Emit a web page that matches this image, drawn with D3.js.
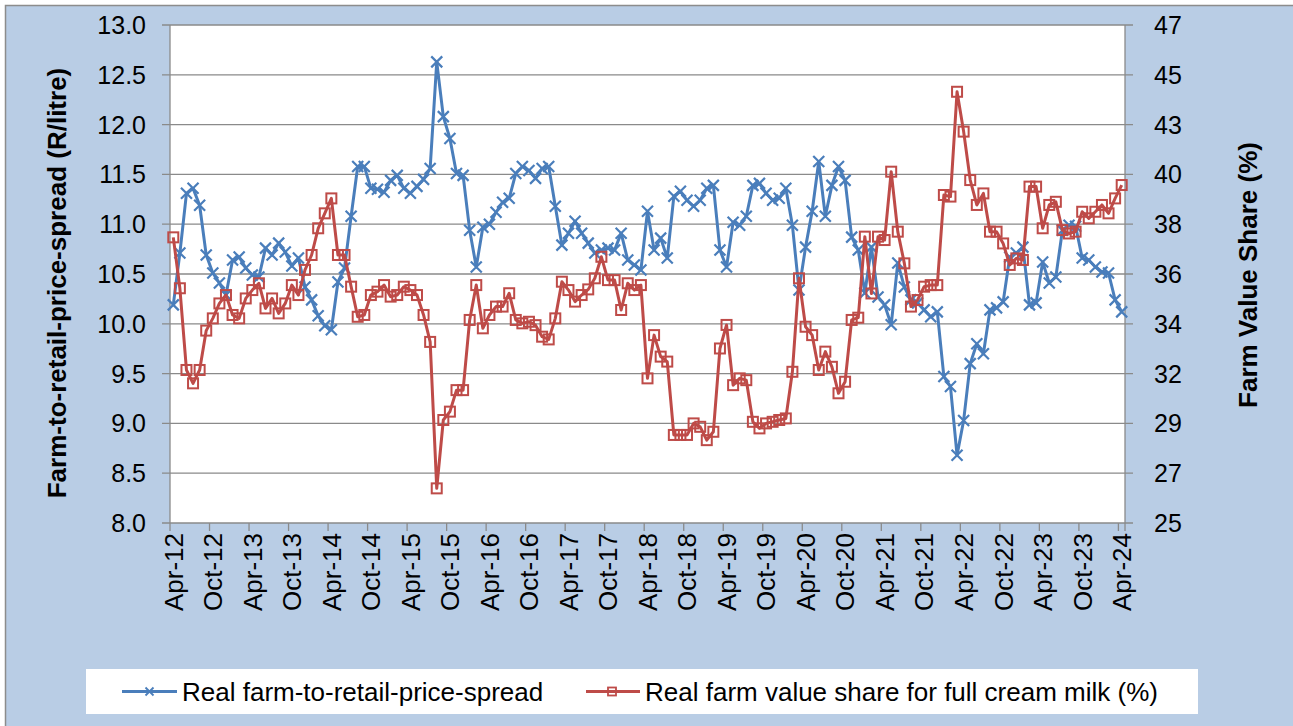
<!DOCTYPE html>
<html>
<head>
<meta charset="utf-8">
<script src="https://cdn.jsdelivr.net/npm/d3@7"></script>
<style>
  body { margin: 0; background: #fff; }
  text { font-family: "Liberation Sans", Arial, sans-serif; fill: #000; }
</style>
</head>
<body>
<script>
// monthly categories Apr-12 .. Apr-24
var months = d3.utcMonth.range(new Date(Date.UTC(2012, 3, 1)), new Date(Date.UTC(2024, 4, 1)));
var fmtMonth = d3.utcFormat("%b-%y");

// Real farm-to-retail-price-spread (R/litre), left axis
var spread = [
  10.19, 10.71, 11.31, 11.36, 11.19, 10.69, 10.51, 10.41, 10.29, 10.64, 10.67, 10.56,
  10.49, 10.47, 10.76, 10.69, 10.81, 10.72, 10.58, 10.66, 10.37, 10.24, 10.08, 9.98,
  9.94, 10.42, 10.56, 11.08, 11.58, 11.58, 11.36, 11.35, 11.32, 11.44, 11.49, 11.36,
  11.31, 11.38, 11.45, 11.56, 12.63, 12.08, 11.86, 11.51, 11.49, 10.94, 10.57, 10.97,
  11.00, 11.12, 11.22, 11.26, 11.51, 11.58, 11.54, 11.46, 11.56, 11.58, 11.18, 10.79,
  10.91, 11.03, 10.91, 10.81, 10.71, 10.74, 10.76, 10.74, 10.91, 10.64, 10.59, 10.54,
  11.13, 10.74, 10.86, 10.66, 11.28, 11.33, 11.24, 11.18, 11.24, 11.36, 11.39, 10.74,
  10.57, 11.02, 10.99, 11.08, 11.39, 11.41, 11.31, 11.24, 11.26, 11.36, 10.99, 10.34,
  10.77, 11.13, 11.63, 11.08, 11.39, 11.58, 11.44, 10.87, 10.74, 10.31, 10.77, 10.27,
  10.19, 9.99, 10.61, 10.37, 10.24, 10.21, 10.14, 10.07, 10.12, 9.47, 9.37, 8.68,
  9.03, 9.60, 9.80, 9.70, 10.14, 10.16, 10.22, 10.67, 10.71, 10.77, 10.19, 10.21,
  10.62, 10.41, 10.47, 10.94, 10.99, 10.98, 10.66, 10.64, 10.57, 10.52, 10.51, 10.24,
  10.12
];

// Real farm value share for full cream milk (%), right axis
var share = [
  37.62, 35.37, 31.76, 31.17, 31.76, 33.50, 34.04, 34.70, 35.07, 34.19, 34.04, 34.92,
  35.29, 35.59, 34.48, 34.92, 34.26, 34.70, 35.51, 35.07, 36.18, 36.84, 38.02, 38.68,
  39.34, 36.84, 36.84, 35.44, 34.11, 34.19, 35.07, 35.22, 35.51, 35.00, 35.07, 35.44,
  35.29, 35.07, 34.19, 33.00, 26.53, 29.55, 29.92, 30.87, 30.87, 33.97, 35.51, 33.60,
  34.19, 34.56, 34.56, 35.15, 33.97, 33.82, 33.89, 33.74, 33.23, 33.11, 34.04, 35.66,
  35.29, 34.78, 35.07, 35.32, 35.81, 36.76, 35.73, 35.73, 34.41, 35.59, 35.29, 35.51,
  31.39, 33.30, 32.35, 32.13, 28.89, 28.89, 28.89, 29.40, 29.25, 28.66, 29.03, 32.71,
  33.75, 31.09, 31.39, 31.31, 29.47, 29.18, 29.40, 29.47, 29.55, 29.62, 31.68, 35.81,
  33.67, 33.30, 31.76, 32.57, 31.90, 30.73, 31.24, 33.97, 34.07, 37.65, 35.14, 37.65,
  37.50, 40.52, 37.87, 36.47, 34.56, 34.85, 35.44, 35.51, 35.51, 39.49, 39.42, 44.05,
  42.29, 40.15, 39.05, 39.56, 37.87, 37.87, 37.35, 36.40, 36.69, 36.62, 39.86, 39.86,
  38.02, 39.05, 39.19, 37.94, 37.79, 37.87, 38.75, 38.46, 38.75, 39.05, 38.68, 39.34,
  39.93
];

var seriesNames = ["Real farm-to-retail-price-spread", "Real farm value share for full cream milk (%)"];
var leftTitle = "Farm-to-retail-price-spread (R/litre)";
var rightTitle = "Farm Value Share (%)";

var width = 1293, height = 726;
var plot = {left: 170, right: 1125, top: 25, bottom: 523};
var blue = "#4a7ebb", red = "#be4b48", grid = "#8a8a8a";

var svg = d3.select("body").append("svg")
  .attr("width", width)
  .attr("height", height);

// chart area
svg.append("rect")
  .attr("x", 5.5).attr("y", 5.5)
  .attr("width", width + 20).attr("height", height + 20)
  .attr("fill", "#b9cde5")
  .attr("stroke", "#8c8c8c")
  .attr("stroke-width", 1.5);

svg.append("rect")
  .attr("x", plot.left).attr("y", plot.top)
  .attr("width", plot.right - plot.left).attr("height", plot.bottom - plot.top)
  .attr("fill", "#fff");

var x = d3.scaleBand()
  .domain(d3.range(months.length))
  .range([plot.left, plot.right])
  .padding(0);
var cx = function (i) { return x(i) + x.bandwidth() / 2; };

var yL = d3.scaleLinear().domain([8, 13]).range([plot.bottom, plot.top]);
var yR = d3.scaleLinear().domain([25, 47]).range([plot.bottom, plot.top]);

var leftTicks = d3.range(0, 11).map(function (k) { return 8 + k * 0.5; });
var rightTicks = d3.range(0, 11).map(function (k) { return 25 + k * 2.2; });

// gridlines + outward ticks on both sides
svg.append("g").selectAll("line")
  .data(leftTicks)
  .join("line")
  .attr("x1", plot.left - 8).attr("x2", plot.right + 8)
  .attr("y1", function (d) { return yL(d); })
  .attr("y2", function (d) { return yL(d); })
  .attr("stroke", grid)
  .attr("stroke-width", 1.3);

// axis lines
svg.append("line")
  .attr("x1", plot.left).attr("x2", plot.left)
  .attr("y1", plot.top).attr("y2", plot.bottom)
  .attr("stroke", grid).attr("stroke-width", 1.3);
svg.append("line")
  .attr("x1", plot.right).attr("x2", plot.right)
  .attr("y1", plot.top).attr("y2", plot.bottom)
  .attr("stroke", grid).attr("stroke-width", 1.3);

// category tick marks every 6 months (at band edges)
var tickIdx = d3.range(0, months.length + 1, 6).concat([months.length]);
svg.append("g").selectAll("line")
  .data(tickIdx)
  .join("line")
  .attr("x1", function (i) { return i < months.length ? x(i) : plot.right; })
  .attr("x2", function (i) { return i < months.length ? x(i) : plot.right; })
  .attr("y1", plot.bottom)
  .attr("y2", plot.bottom + 8)
  .attr("stroke", grid)
  .attr("stroke-width", 1.3);

// left tick labels
svg.append("g").selectAll("text")
  .data(leftTicks)
  .join("text")
  .attr("x", 146)
  .attr("y", function (d) { return yL(d); })
  .attr("dy", "0.36em")
  .attr("text-anchor", "end")
  .style("font-size", "25px")
  .text(d3.format(".1f"));

// right tick labels
svg.append("g").selectAll("text")
  .data(rightTicks)
  .join("text")
  .attr("x", 1154)
  .attr("y", function (d) { return yR(d); })
  .attr("dy", "0.36em")
  .attr("text-anchor", "start")
  .style("font-size", "25px")
  .text(d3.format(".0f"));

// month labels
svg.append("g").selectAll("text")
  .data(d3.range(0, months.length, 6))
  .join("text")
  .attr("transform", function (i) { return "translate(" + cx(i) + "," + (plot.bottom + 10) + ") rotate(-90)"; })
  .attr("dy", "0.36em")
  .attr("text-anchor", "end")
  .style("font-size", "26px")
  .text(function (i) { return fmtMonth(months[i]); });

// axis titles
svg.append("text")
  .attr("transform", "translate(57,283) rotate(-90)")
  .attr("dy", "0.36em")
  .attr("text-anchor", "middle")
  .style("font-size", "26px")
  .style("font-weight", "bold")
  .text(leftTitle);

svg.append("text")
  .attr("transform", "translate(1248,275) rotate(-90)")
  .attr("dy", "0.36em")
  .attr("text-anchor", "middle")
  .style("font-size", "26px")
  .style("font-weight", "bold")
  .text(rightTitle);

// series
var lineL = d3.line().x(function (d, i) { return cx(i); }).y(function (d) { return yL(d); });
var lineR = d3.line().x(function (d, i) { return cx(i); }).y(function (d) { return yR(d); });

function xMarker(g, px, py, r, w) {
  g.append("path")
    .attr("d", "M" + (px - r) + "," + (py - r) + "L" + (px + r) + "," + (py + r) +
      "M" + (px - r) + "," + (py + r) + "L" + (px + r) + "," + (py - r))
    .attr("stroke", blue)
    .attr("stroke-width", w)
    .attr("fill", "none");
}

function sqMarker(g, px, py, r, w) {
  g.append("rect")
    .attr("x", px - r).attr("y", py - r)
    .attr("width", 2 * r).attr("height", 2 * r)
    .attr("fill", "none")
    .attr("stroke", red)
    .attr("stroke-width", w);
}

var gBlue = svg.append("g");
gBlue.append("path")
  .datum(spread)
  .attr("d", lineL)
  .attr("fill", "none")
  .attr("stroke", blue)
  .attr("stroke-width", 3)
  .attr("stroke-linejoin", "round");
spread.forEach(function (d, i) { xMarker(gBlue, cx(i), yL(d), 5.5, 2.2); });

var gRed = svg.append("g");
gRed.append("path")
  .datum(share)
  .attr("d", lineR)
  .attr("fill", "none")
  .attr("stroke", red)
  .attr("stroke-width", 3)
  .attr("stroke-linejoin", "round");
share.forEach(function (d, i) { sqMarker(gRed, cx(i), yR(d), 5, 2); });

// legend
var leg = svg.append("g");
leg.append("rect")
  .attr("x", 86).attr("y", 669)
  .attr("width", 1112).attr("height", 45)
  .attr("fill", "#fff");

var legY = 691.5;
leg.append("line")
  .attr("x1", 122).attr("x2", 177)
  .attr("y1", legY).attr("y2", legY)
  .attr("stroke", blue).attr("stroke-width", 3);
xMarker(leg, 149.5, legY, 4, 1.8);
leg.append("text")
  .attr("x", 182).attr("y", legY)
  .attr("dy", "0.36em")
  .style("font-size", "26px")
  .text(seriesNames[0]);

leg.append("line")
  .attr("x1", 586).attr("x2", 640)
  .attr("y1", legY).attr("y2", legY)
  .attr("stroke", red).attr("stroke-width", 3);
sqMarker(leg, 612, legY, 4, 1.8);
leg.append("text")
  .attr("x", 645).attr("y", legY)
  .attr("dy", "0.36em")
  .style("font-size", "26px")
  .text(seriesNames[1]);
</script>
</body>
</html>
